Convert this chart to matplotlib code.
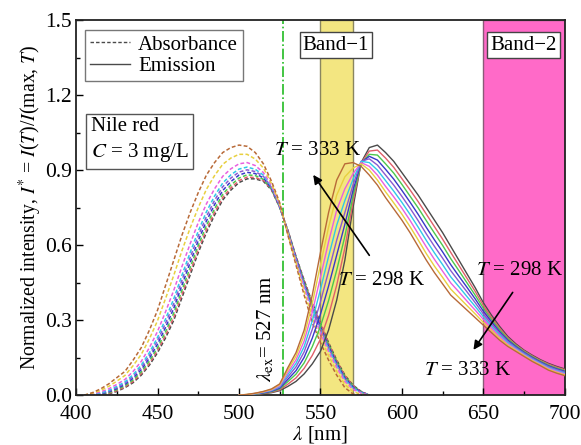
import matplotlib
matplotlib.use("Agg")
import matplotlib.pyplot as plt
from matplotlib.ticker import MultipleLocator, FormatStrFormatter

# ---------------- data ----------------
wl_abs = list(range(405, 581, 5))
abs_1 = [0, 0, 0, 0.005, 0.015, 0.03, 0.05, 0.08, 0.12, 0.17, 0.23, 0.30, 0.39, 0.48, 0.57, 0.65, 0.72, 0.78,
         0.82, 0.85, 0.865, 0.865, 0.855, 0.82, 0.75, 0.66, 0.555, 0.46, 0.37, 0.29, 0.21, 0.14, 0.08, 0.04, 0.015, 0]
abs_2 = [0, 0.001, 0.001, 0.007, 0.018, 0.033, 0.055, 0.086, 0.127, 0.179, 0.241, 0.312, 0.403, 0.493, 0.582, 0.662,
         0.731, 0.790, 0.829, 0.858, 0.872, 0.870, 0.859, 0.822, 0.751, 0.658, 0.553, 0.457, 0.366, 0.286, 0.207, 0.137,
         0.078, 0.038, 0.014, 0]
abs_3 = [0, 0.001, 0.003, 0.010, 0.022, 0.038, 0.061, 0.093, 0.137, 0.190, 0.255, 0.329, 0.42, 0.51, 0.599, 0.678,
         0.745, 0.803, 0.840, 0.868, 0.881, 0.878, 0.863, 0.824, 0.752, 0.656, 0.551, 0.453, 0.360, 0.280, 0.202, 0.133,
         0.074, 0.036, 0.013, 0]
abs_4 = [0, 0.002, 0.005, 0.013, 0.026, 0.043, 0.068, 0.102, 0.148, 0.204, 0.272, 0.348, 0.44, 0.53, 0.618, 0.696,
         0.762, 0.818, 0.854, 0.88, 0.891, 0.886, 0.869, 0.827, 0.754, 0.654, 0.548, 0.448, 0.354, 0.274, 0.196, 0.128,
         0.07, 0.033, 0.012, 0]
abs_5 = [0, 0.003, 0.007, 0.016, 0.030, 0.048, 0.075, 0.111, 0.159, 0.218, 0.289, 0.367, 0.46, 0.55, 0.637, 0.714,
         0.779, 0.833, 0.868, 0.892, 0.901, 0.894, 0.875, 0.830, 0.756, 0.652, 0.545, 0.443, 0.348, 0.268, 0.19, 0.123,
         0.066, 0.030, 0.011, 0]
abs_6 = [0, 0.004, 0.009, 0.019, 0.035, 0.053, 0.082, 0.120, 0.170, 0.231, 0.306, 0.386, 0.48, 0.57, 0.656, 0.733,
         0.796, 0.848, 0.881, 0.904, 0.912, 0.903, 0.880, 0.833, 0.757, 0.65, 0.542, 0.438, 0.341, 0.261, 0.185, 0.118,
         0.062, 0.027, 0.010, 0]
abs_7 = [0, 0.005, 0.013, 0.025, 0.043, 0.063, 0.095, 0.135, 0.19, 0.255, 0.335, 0.42, 0.515, 0.605, 0.69, 0.765,
         0.825, 0.875, 0.905, 0.925, 0.93, 0.918, 0.89, 0.838, 0.76, 0.648, 0.538, 0.43, 0.33, 0.25, 0.175, 0.11,
         0.055, 0.023, 0.008, 0]
abs_8 = [0, 0.008, 0.019, 0.035, 0.056, 0.079, 0.118, 0.163, 0.225, 0.298, 0.388, 0.48, 0.578, 0.668, 0.75, 0.823,
         0.878, 0.923, 0.948, 0.963, 0.963, 0.944, 0.908, 0.846, 0.765, 0.645, 0.529, 0.415, 0.31, 0.23, 0.158, 0.095,
         0.043, 0.014, 0.004, 0]
abs_9 = [0, 0.01, 0.025, 0.045, 0.07, 0.095, 0.14, 0.19, 0.26, 0.34, 0.44, 0.54, 0.64, 0.73, 0.81, 0.88, 0.93, 0.97,
         0.99, 1.0, 0.995, 0.97, 0.925, 0.855, 0.77, 0.64, 0.52, 0.40, 0.29, 0.21, 0.14, 0.08, 0.03, 0.005, 0, 0]

wl_em = list(range(500, 701, 5))
em_1 = [0, 0, 0.003, 0.006, 0.01, 0.018, 0.035, 0.055, 0.085, 0.125, 0.175, 0.26, 0.38, 0.54, 0.75, 0.93, 0.99, 1.0,
        0.97, 0.935, 0.89, 0.845, 0.80, 0.75, 0.70, 0.65, 0.595, 0.54, 0.485, 0.43, 0.37, 0.32, 0.275, 0.235, 0.205,
        0.18, 0.16, 0.142, 0.127, 0.115, 0.105]
em_2 = [0, 0, 0.004, 0.007, 0.012, 0.021, 0.044, 0.069, 0.107, 0.159, 0.224, 0.319, 0.44, 0.588, 0.773, 0.928, 0.976,
        0.98, 0.948, 0.911, 0.866, 0.821, 0.774, 0.724, 0.674, 0.624, 0.571, 0.519, 0.467, 0.415, 0.359, 0.311, 0.268,
        0.23, 0.201, 0.177, 0.157, 0.139, 0.124, 0.112, 0.102]
em_3 = [0, 0.001, 0.004, 0.008, 0.014, 0.025, 0.054, 0.084, 0.129, 0.194, 0.274, 0.378, 0.50, 0.635, 0.795, 0.926,
        0.963, 0.96, 0.925, 0.888, 0.843, 0.796, 0.749, 0.698, 0.648, 0.599, 0.546, 0.498, 0.449, 0.40, 0.348, 0.303,
        0.261, 0.225, 0.198, 0.174, 0.154, 0.136, 0.120, 0.108, 0.098]
em_4 = [0, 0.001, 0.005, 0.009, 0.016, 0.028, 0.063, 0.098, 0.151, 0.228, 0.323, 0.436, 0.56, 0.683, 0.818, 0.93,
        0.955, 0.94, 0.903, 0.864, 0.819, 0.772, 0.723, 0.671, 0.621, 0.573, 0.522, 0.476, 0.431, 0.385, 0.336, 0.294,
        0.254, 0.22, 0.194, 0.171, 0.151, 0.133, 0.117, 0.105, 0.095]
em_5 = [0, 0.002, 0.006, 0.011, 0.018, 0.032, 0.073, 0.113, 0.173, 0.263, 0.373, 0.495, 0.62, 0.73, 0.84, 0.935,
        0.945, 0.92, 0.88, 0.84, 0.795, 0.748, 0.698, 0.645, 0.595, 0.548, 0.498, 0.455, 0.413, 0.37, 0.325, 0.285,
        0.248, 0.215, 0.19, 0.168, 0.148, 0.13, 0.114, 0.102, 0.092]
em_6 = [0, 0.002, 0.006, 0.012, 0.019, 0.035, 0.082, 0.127, 0.194, 0.297, 0.422, 0.554, 0.68, 0.778, 0.863, 0.935,
        0.93, 0.90, 0.858, 0.816, 0.771, 0.723, 0.672, 0.619, 0.569, 0.522, 0.473, 0.434, 0.394, 0.355, 0.314, 0.276,
        0.241, 0.21, 0.186, 0.164, 0.144, 0.127, 0.11, 0.098, 0.088]
em_7 = [0, 0.002, 0.007, 0.013, 0.021, 0.038, 0.091, 0.141, 0.216, 0.331, 0.471, 0.613, 0.74, 0.825, 0.885, 0.93,
        0.915, 0.88, 0.835, 0.793, 0.748, 0.699, 0.646, 0.593, 0.543, 0.496, 0.449, 0.413, 0.376, 0.34, 0.303, 0.268,
        0.234, 0.205, 0.183, 0.161, 0.141, 0.124, 0.107, 0.095, 0.085]
em_8 = [0, 0.003, 0.007, 0.014, 0.023, 0.042, 0.101, 0.156, 0.238, 0.366, 0.521, 0.671, 0.80, 0.873, 0.908, 0.925,
        0.90, 0.86, 0.813, 0.769, 0.724, 0.674, 0.621, 0.566, 0.516, 0.471, 0.424, 0.391, 0.358, 0.325, 0.291, 0.259,
        0.227, 0.20, 0.179, 0.158, 0.138, 0.121, 0.103, 0.091, 0.081]
em_9 = [0, 0.003, 0.008, 0.015, 0.025, 0.045, 0.11, 0.17, 0.26, 0.40, 0.57, 0.73, 0.86, 0.925, 0.93, 0.915, 0.88, 0.84,
        0.79, 0.745, 0.70, 0.65, 0.595, 0.54, 0.49, 0.445, 0.40, 0.37, 0.34, 0.31, 0.28, 0.25, 0.22, 0.195, 0.175,
        0.155, 0.135, 0.118, 0.10, 0.088, 0.078]

curve_colors = ["#4a4a4a", "#e0606a", "#4cc84c", "#3838c8", "#8a5ad0", "#30c8e8", "#e860e0", "#e8d040", "#b86a38"]

lambda_ex = 527
band1 = (550, 570)
band2 = (650, 700)

# ---------------- plotting ----------------
plt.rcParams["font.family"] = ["Liberation Serif", "DejaVu Serif"]
plt.rcParams["mathtext.fontset"] = "stix"

FS = 15
fig = plt.figure(figsize=(5.81, 4.45), dpi=100)
ax = fig.add_axes([0.131, 0.112, 0.841, 0.843])

ax.axvspan(*band1, facecolor="#f3e681", edgecolor="#8a8660", lw=1.0, zorder=0)
ax.axvspan(*band2, facecolor="#ff6ac8", edgecolor="#8a5a78", lw=1.0, zorder=0)

abs_series = [abs_1, abs_2, abs_3, abs_4, abs_5, abs_6, abs_7, abs_8, abs_9]
em_series = [em_1, em_2, em_3, em_4, em_5, em_6, em_7, em_8, em_9]
for ys, c in zip(abs_series, curve_colors):
    ax.plot(wl_abs, ys, ls=(0, (2.5, 1.5)), color=c, lw=1.1, zorder=2)
for ys, c in zip(em_series, curve_colors):
    ax.plot(wl_em, ys, ls="-", color=c, lw=1.0, zorder=3)

ax.axvline(lambda_ex, color="#22bb22", ls="-.", lw=1.2, zorder=1)

# legend proxies
ax.plot([], [], ls=(0, (2.5, 1.5)), color="#4a4a4a", lw=1.0, label="Absorbance")
ax.plot([], [], ls="-", color="#4a4a4a", lw=1.0, label="Emission")
leg = ax.legend(loc="upper left", bbox_to_anchor=(0.01, 0.985), fontsize=FS, frameon=True, fancybox=False,
                edgecolor="#555555", handlelength=1.9, borderpad=0.25, labelspacing=0.1, handletextpad=0.4,
                borderaxespad=0.2)
leg.get_frame().set_linewidth(1.0)

ax.text(0.03, 0.615, "Nile red\n$C$ = 3 mg/L", transform=ax.transAxes, fontsize=FS, va="bottom", ha="left",
        linespacing=1.35, bbox=dict(boxstyle="square,pad=0.22", fc="white", ec="#555555", lw=1.0))

ax.text(559.5, 1.40, "Band\u22121", fontsize=FS, ha="center", va="center",
        bbox=dict(boxstyle="square,pad=0.15", fc="white", ec="#444444", lw=1.0))
ax.text(674.5, 1.40, "Band\u22122", fontsize=FS, ha="center", va="center",
        bbox=dict(boxstyle="square,pad=0.15", fc="white", ec="#444444", lw=1.0))

ax.text(516.5, 0.265, r"$\lambda_{\rm ex}$= 527 nm", rotation=90, fontsize=FS, ha="center", va="center")

ax.annotate("", xy=(544.6, 0.89), xytext=(581, 0.55),
            arrowprops=dict(arrowstyle="-|>", color="black", lw=1.2, mutation_scale=13))
ax.text(548, 0.98, "$T$ = 333 K", fontsize=FS, ha="center", va="center")
ax.text(587.5, 0.46, "$T$ = 298 K", fontsize=FS, ha="center", va="center")

ax.annotate("", xy=(643, 0.172), xytext=(669, 0.42),
            arrowprops=dict(arrowstyle="-|>", color="black", lw=1.2, mutation_scale=13))
ax.text(672.5, 0.50, "$T$ = 298 K", fontsize=FS, ha="center", va="center")
ax.text(640.5, 0.10, "$T$ = 333 K", fontsize=FS, ha="center", va="center")

ax.set_xlim(400, 700)
ax.set_ylim(0, 1.5)
ax.xaxis.set_major_locator(MultipleLocator(50))
ax.xaxis.set_minor_locator(MultipleLocator(25))
ax.yaxis.set_major_locator(MultipleLocator(0.3))
ax.yaxis.set_minor_locator(MultipleLocator(0.15))
ax.yaxis.set_major_formatter(FormatStrFormatter("%.1f"))
ax.tick_params(which="both", direction="in", top=False, right=False, labelsize=15.5)
ax.tick_params(axis="x", which="major", pad=7)
ax.tick_params(axis="y", which="major", pad=3)
ax.tick_params(which="major", length=5, width=1.0)
ax.tick_params(which="minor", length=3, width=1.0)
for s in ax.spines.values():
    s.set_linewidth(1.3)
    s.set_color("#222222")

ax.set_xlabel(r"$\lambda$ [nm]", fontsize=FS, labelpad=0)
ax.set_ylabel(r"Normalized intensity, $I^{*}$ = $I$($T$)/$I$(max, $T$)", fontsize=14.2, labelpad=1)

fig.savefig("out.png", dpi=100)
